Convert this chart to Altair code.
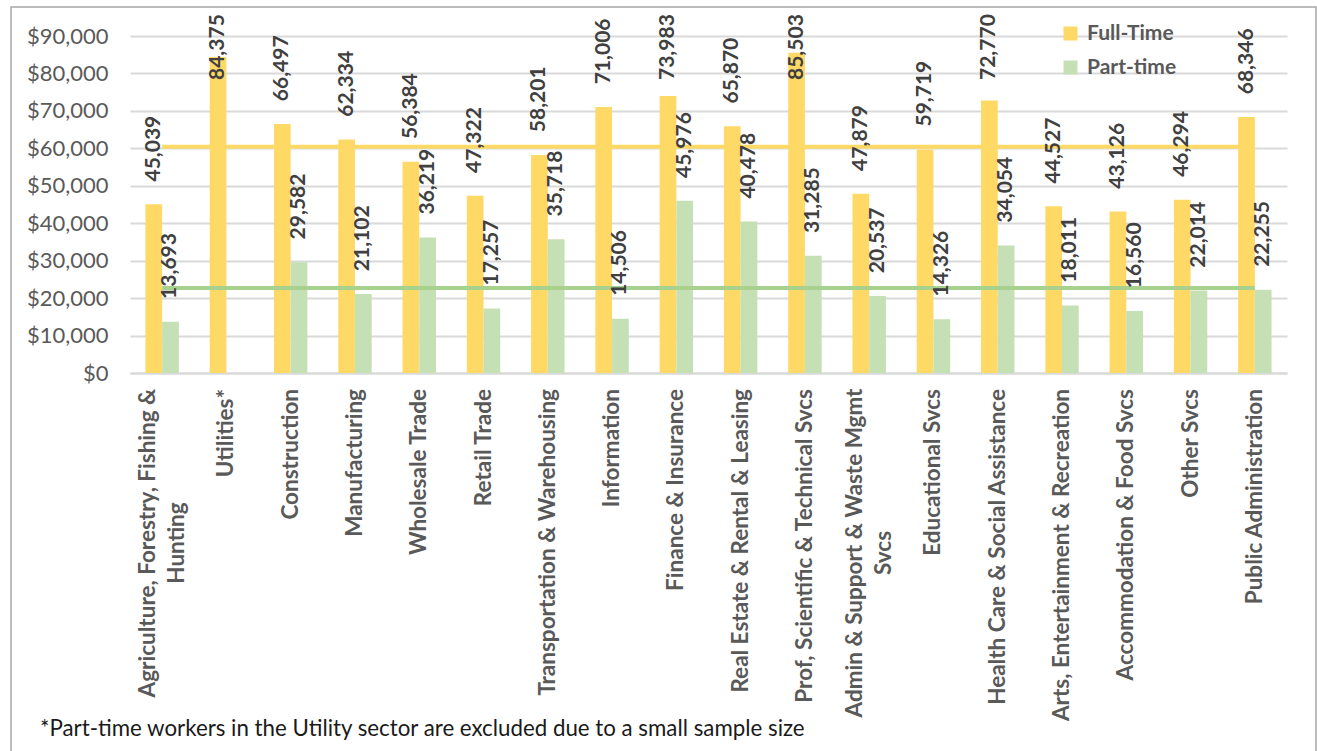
import altair as alt
import pandas as pd

# Average annual earnings by industry, full-time vs part-time workers
industries = [
    "Agriculture, Forestry, Fishing & Hunting",
    "Utilities*",
    "Construction",
    "Manufacturing",
    "Wholesale Trade",
    "Retail Trade",
    "Transportation & Warehousing",
    "Information",
    "Finance & Insurance",
    "Real Estate & Rental & Leasing",
    "Prof, Scientific & Technical Svcs",
    "Admin & Support & Waste Mgmt Svcs",
    "Educational Svcs",
    "Health Care & Social Assistance",
    "Arts, Entertainment & Recreation",
    "Accommodation & Food Svcs",
    "Other Svcs",
    "Public Administration",
]
full_time = [45039, 84375, 66497, 62334, 56384, 47322, 58201, 71006, 73983,
             65870, 85503, 47879, 59719, 72770, 44527, 43126, 46294, 68346]
# Utilities part-time excluded (small sample)
part_time = [13693, None, 29582, 21102, 36219, 17257, 35718, 14506, 45976,
             40478, 31285, 20537, 14326, 34054, 18011, 16560, 22014, 22255]

# All-industry averages drawn as horizontal reference lines
full_time_avg = 60400
part_time_avg = 22700

statuses = ["Full-Time", "Part-time"]
y_ticks = [0, 10000, 20000, 30000, 40000, 50000, 60000, 70000, 80000, 90000]
footnote = "*Part-time workers in the Utility sector are excluded due to a small sample size"

# Category names that break over two lines: name -> (line 1, line 2, half of line-1 length in px)
wrapped = {
    "Agriculture, Forestry, Fishing & Hunting": ("Agriculture, Forestry, Fishing &", "Hunting", 154),
    "Admin & Support & Waste Mgmt Svcs": ("Admin & Support & Waste Mgmt", "Svcs", 164),
}

FT_COLOR = "#FFD966"
PT_COLOR = "#C5E0B4"
FT_LINE = "#FFD966"
PT_LINE = "#A9D18E"
GRID = "#D9D9D9"
AXIS_TEXT = "#595959"
VALUE_TEXT = "#404040"
CAT_FONT = 22.5
CAT_PAD = 16
LINE_H = 29

rows = []
for ind, ft, pt in zip(industries, full_time, part_time):
    rows.append({"industry": ind, "status": "Full-Time", "earnings": ft})
    if pt is not None:
        rows.append({"industry": ind, "status": "Part-time", "earnings": pt})
bars_df = pd.DataFrame(rows)

avg_df = pd.DataFrame({
    "industry": industries,
    "ft_avg": [full_time_avg] * len(industries),
    "pt_avg": [part_time_avg] * len(industries),
})

# one shared definition of each axis so the layers merge cleanly
x_axis = alt.Axis(labels=False, ticks=False, domainColor=GRID, domainWidth=2, title=None)
y_axis = alt.Axis(
    values=y_ticks,
    format="$,.0f",
    title=None,
    labelFont="Lato",
    labelFontSize=22,
    labelColor=AXIS_TEXT,
    labelPadding=22,
    labelOverlap=False,
    labelFlush=False,
    ticks=False,
    domain=False,
    grid=True,
    gridColor=GRID,
    gridWidth=2,
)

x_scale = alt.Scale(domain=industries, paddingInner=0.48, paddingOuter=0.24)
y_scale = alt.Scale(domain=[0, 90000], nice=False)


def x_enc():
    return alt.X("industry:N", sort=industries, scale=x_scale, axis=x_axis, title=None)


def y_enc(field):
    return alt.Y(field, scale=y_scale, axis=y_axis, title=None)


x_off = alt.XOffset("status:N", sort=statuses,
                    scale=alt.Scale(domain=statuses, paddingInner=0, paddingOuter=0))

bars = alt.Chart(bars_df).mark_bar().encode(
    x=x_enc(),
    xOffset=x_off,
    y=y_enc("earnings:Q"),
    color=alt.Color(
        "status:N",
        sort=statuses,
        scale=alt.Scale(domain=statuses, range=[FT_COLOR, PT_COLOR]),
        legend=alt.Legend(
            title=None,
            orient="none",
            legendX=930,
            legendY=-13,
            symbolType="square",
            symbolSize=196,
            symbolStrokeWidth=0,
            labelFont="Lato",
            labelFontWeight="bold",
            labelFontSize=21,
            labelColor=AXIS_TEXT,
            labelOffset=6,
            rowPadding=12,
            padding=0,
        ),
    ),
)

ft_line = alt.Chart(avg_df).mark_line(color=FT_LINE, strokeWidth=4).encode(
    x=x_enc(), y=y_enc("ft_avg:Q")
)
pt_line = alt.Chart(avg_df).mark_line(color=PT_LINE, strokeWidth=4).encode(
    x=x_enc(), y=y_enc("pt_avg:Q")
)

# value labels sit above each bar, held below the top edge of the frame
labels = alt.Chart(bars_df).transform_calculate(
    label_y="min(datum.earnings + 6100, 78250)"
).mark_text(
    angle=270,
    align="left",
    baseline="middle",
    font="Lato",
    fontWeight="bold",
    fontSize=21,
    color=VALUE_TEXT,
).encode(
    x=x_enc(),
    xOffset=x_off,
    y=y_enc("label_y:Q"),
    text=alt.Text("earnings:Q", format=",.0f"),
)

# category labels, drawn as rotated text hanging below the baseline
cat_style = dict(angle=270, baseline="middle", font="Lato", fontWeight="bold",
                 fontSize=CAT_FONT, color=AXIS_TEXT)
single_df = pd.DataFrame({"industry": [c for c in industries if c not in wrapped],
                          "zero": 0})
cat_single = alt.Chart(single_df).mark_text(align="right", dx=-CAT_PAD, **cat_style).encode(
    x=x_enc(), y=y_enc("zero:Q"), text="industry:N"
)
cat_layers = [cat_single]
for name, (l1, l2, half) in wrapped.items():
    wdf = pd.DataFrame({"industry": [name], "text": [l1 + "\n" + l2], "zero": [0]})
    cat_layers.append(
        alt.Chart(wdf).mark_text(
            align="center", dx=-(CAT_PAD + half), dy=-LINE_H / 2,
            lineBreak="\n", lineHeight=LINE_H, **cat_style
        ).encode(x=x_enc(), y=y_enc("zero:Q"), text="text:N")
    )

frame = alt.Chart(pd.DataFrame({"k": [0]})).mark_rect(
    filled=False, stroke="#A6A6A6", strokeWidth=1.5
).encode(
    x=alt.value(-119), x2=alt.value(1186), y=alt.value(-29), y2=alt.value(760)
)

note = alt.Chart(pd.DataFrame({"note": [footnote]})).mark_text(
    align="left",
    baseline="alphabetic",
    font="Lato",
    fontSize=22.3,
    color="#1A1A1A",
).encode(
    x=alt.value(-90), y=alt.value(700), text="note:N"
)

chart = alt.layer(bars, ft_line, pt_line, labels, *cat_layers, frame, note).properties(
    width=1157,
    height=337,
    autosize=alt.AutoSizeParams(type="none"),
    padding={"left": 130, "top": 36, "right": 30, "bottom": 378},
    background="white",
).configure_view(strokeWidth=0).configure_axisY(labelOverlap=False)

chart.save("out.html", embed_options={"renderer": "svg", "actions": False})
